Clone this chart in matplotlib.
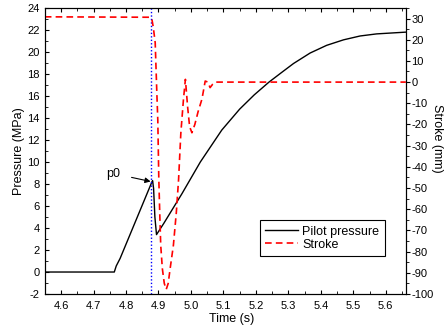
import matplotlib
matplotlib.use("Agg")
import matplotlib.pyplot as plt
from matplotlib.ticker import MultipleLocator, FormatStrFormatter

plt.rcParams['font.family'] = ['Liberation Sans', 'DejaVu Sans']
plt.rcParams['axes.unicode_minus'] = False

# pilot pressure (MPa) vs time (s)
t_p = [4.55, 4.764, 4.770, 4.782, 4.880, 4.882, 4.885, 4.889, 4.894, 4.916,
       4.972, 5.029, 5.095, 5.150, 5.195, 5.240, 5.280, 5.316, 5.367, 5.418,
       5.470, 5.521, 5.572, 5.662]
pressure = [0, 0, 0.55, 1.24, 8.2, 8.3, 7.6, 5.0, 3.4, 4.4,
            7.1, 10.0, 12.9, 14.8, 16.1, 17.25, 18.15, 18.95, 19.9, 20.6,
            21.1, 21.45, 21.64, 21.8]

# stroke (mm) vs time (s)
t_s = [4.55, 4.875, 4.880, 4.884, 4.890, 4.895, 4.898, 4.901, 4.904, 4.907,
       4.912, 4.918, 4.924, 4.930, 4.936, 4.946, 4.955, 4.962, 4.969, 4.977,
       4.983, 4.990, 4.996, 5.003, 5.012, 5.022, 5.034, 5.044, 5.052, 5.059,
       5.067, 5.075, 5.662]
stroke = [30.8, 30.6, 29.5, 26, 18.6, -5, -18, -45, -62, -77,
          -88, -95, -97.8, -95, -88, -77, -61.6, -45.9, -23.9, -8.2,
          1.3, -12, -21, -23.9, -20, -14, -8, 0.5, 0, -2.6,
          -1, 0, 0]

t_p0 = 4.877

fig = plt.figure(figsize=(4.48, 3.30), dpi=100)
ax = fig.add_axes([0.1, 0.109, 0.806, 0.867])
ax2 = ax.twinx()

l1, = ax.plot(t_p, pressure, color='black', lw=1.0, label='Pilot pressure')
l2, = ax2.plot(t_s, stroke, color='red', lw=1.2, ls=(0, (4, 2.5)), label='Stroke')
ax.axvline(t_p0, color='blue', lw=1.0, ls=(0, (1, 1.5)))

ax.set_xlim(4.55, 5.662)
ax.set_ylim(-2, 24)
ax2.set_ylim(-100, 35)

ax.xaxis.set_major_locator(MultipleLocator(0.1))
ax.xaxis.set_minor_locator(MultipleLocator(0.05))
ax.xaxis.set_major_formatter(FormatStrFormatter('%.1f'))
ax.yaxis.set_major_locator(MultipleLocator(2))
ax.yaxis.set_minor_locator(MultipleLocator(1))
ax2.yaxis.set_major_locator(MultipleLocator(10))
ax2.yaxis.set_minor_locator(MultipleLocator(5))

ax.tick_params(axis='x', which='both', direction='in', top=True, labelsize=8)
ax.tick_params(axis='x', which='major', length=3, pad=5)
ax.tick_params(axis='x', which='minor', length=2)
ax.tick_params(axis='y', which='both', direction='in', labelsize=8)
ax.tick_params(axis='y', which='major', length=3)
ax.tick_params(axis='y', which='minor', length=2)
ax2.tick_params(axis='y', which='both', direction='out', labelsize=8, pad=1)
ax2.tick_params(axis='y', which='major', length=3)
ax2.tick_params(axis='y', which='minor', length=2)

ax.set_xlabel('Time (s)', fontsize=9, labelpad=1)
ax.xaxis.set_label_coords(0.518, -0.065)
ax.set_ylabel('Pressure (MPa)', fontsize=9, labelpad=2)
ax2.set_ylabel('Stroke (mm)', fontsize=9, rotation=270, ha='center', va='center')
ax2.yaxis.set_label_coords(1.086, 0.545)

ax.annotate('p0', xy=(4.880, 8.2), xytext=(4.762, 8.95), fontsize=9,
            ha='center', va='center',
            arrowprops=dict(arrowstyle='-|>', color='black', lw=0.8,
                            mutation_scale=8, shrinkA=6, shrinkB=1))

leg = ax.legend(handles=[l1, l2], loc='upper left',
                bbox_to_anchor=(0.578, 0.281), fontsize=9, frameon=True,
                fancybox=False, edgecolor='black', framealpha=1,
                borderpad=0.45, handlelength=2.6, labelspacing=0.1,
                handletextpad=0.35)
leg.get_frame().set_linewidth(0.8)

fig.savefig('out.png', dpi=100)
